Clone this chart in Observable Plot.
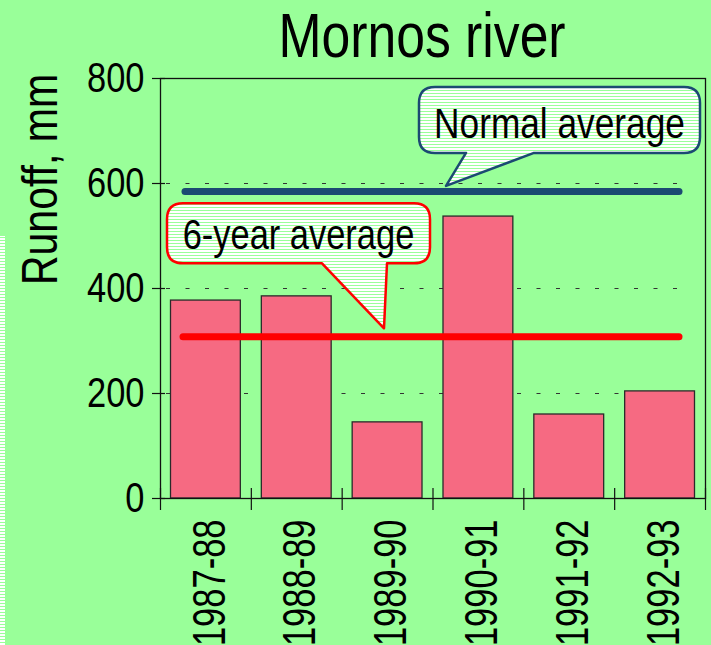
<!DOCTYPE html>
<html><head><meta charset="utf-8">
<script src="https://cdn.jsdelivr.net/npm/d3@7"></script>
<script src="https://cdn.jsdelivr.net/npm/@observablehq/plot@0.6"></script>
<style>
html,body{margin:0;padding:0;background:#99FF99;width:711px;height:645px;overflow:hidden;}
#title{height:70px;line-height:70px;font-family:"Liberation Sans",Arial,sans-serif;font-size:63px;text-align:center;padding-left:133px;box-sizing:border-box;width:711px;color:#000;white-space:nowrap;}
#title span{display:inline-block;transform:scaleX(0.82);transform-origin:50% 50%;}
#chart svg{display:block;overflow:visible;}
</style></head><body>
<div id="title"><span>Mornos river</span></div>
<div id="chart"></div>
<script>
const years = ["1987-88", "1988-89", "1989-90", "1990-91", "1991-92", "1992-93"];
const runoff = [377, 385, 145, 537, 160, 204];
const yTicks = [0, 200, 400, 600, 800];
const gridValues = [200, 400, 600];
const normalAverage = 585;
const sixYearAverage = 308;
const yLabel = "Runoff, mm";
const normalLabel = "Normal average";
const sixYearLabel = "6-year average";

const data = years.map((y, i) => ({year: y, value: runoff[i]}));
const FONT = '"Liberation Sans", Arial, sans-serif';
const NARROW = 0.82;
const NARROW_X = 0.75;
const W = 711, H = 575, ML = 160, MR = 6, MT = 8, MB = 147;
const frameW = W - ML - MR, frameH = H - MT - MB;
const step = frameW / years.length;

const plot = Plot.plot({
  width: W, height: H,
  marginLeft: ML, marginRight: MR, marginTop: MT, marginBottom: MB,
  style: {background: "transparent", fontFamily: FONT, overflow: "visible"},
  x: {domain: years, paddingInner: 0, paddingOuter: 0, round: false, axis: null},
  y: {domain: [0, 800], axis: null},
  marks: [
    Plot.ruleY(gridValues, {y: d => d, stroke: "#333", strokeWidth: 1.2, strokeDasharray: "4 15.5", insetLeft: 6, insetRight: 14}),
    Plot.barY(data, {x: "year", y: "value", fill: "#F66A82", stroke: "#2a2a2a", strokeWidth: 1.3, insetLeft: 10.5, insetRight: 10.5}),
    Plot.ruleY([normalAverage], {y: d => d, stroke: "#1B4A72", strokeWidth: 7, strokeLinecap: "round", insetLeft: 25, insetRight: 26}),
    Plot.ruleY([sixYearAverage], {y: d => d, stroke: "#FF0000", strokeWidth: 7, strokeLinecap: "round", insetLeft: 23, insetRight: 26}),
    Plot.frame({stroke: "#111", strokeWidth: 1.3}),
    Plot.ruleY(yTicks, {y: d => d, stroke: "#111", strokeWidth: 1.2, insetLeft: -8, insetRight: frameW - 5}),
    Plot.ruleX(years, {x: d => d, dx: -step / 2, stroke: "#111", strokeWidth: 1.2, insetTop: frameH - 10, insetBottom: -12}),
    Plot.ruleX(years.slice(-1), {x: d => d, dx: step / 2, stroke: "#111", strokeWidth: 1.2, insetTop: frameH - 10, insetBottom: -12}),
    Plot.text(yTicks, {y: d => d, text: d => String(d), frameAnchor: "left", textAnchor: "end", lineAnchor: "middle", dx: -16, fontSize: 42, fill: "#000"}),
    Plot.text(years, {x: d => d, text: d => d, frameAnchor: "bottom", rotate: -90, textAnchor: "end", lineAnchor: "middle", dy: 21, dx: 4, fontSize: 46, fill: "#000"}),
    Plot.text([yLabel], {text: d => d, frameAnchor: "top-left", rotate: -90, textAnchor: "middle", lineAnchor: "middle", dx: -120, dy: 101, fontSize: 50, fill: "#000"})
  ]
});

document.getElementById("chart").appendChild(plot);

const svg = d3.select(plot);
const yS = plot.scale("y");

// narrow the glyphs along the reading direction (Arial Narrow look)
const yearSet = new Set(years);
svg.selectAll("text").each(function () {
  const t = d3.select(this);
  const k = yearSet.has(this.textContent) ? NARROW_X : NARROW;
  const tr = t.attr("transform") || "";
  const xa = t.attr("x"), ya = t.attr("y");
  let tx = 0, ty = 0;
  if (xa != null && isFinite(+xa)) { tx = +xa; t.attr("x", null); }
  if (ya != null && isFinite(+ya)) { ty = +ya; t.attr("y", null); }
  t.attr("transform", `${tr} translate(${tx},${ty}) scale(${k},1)`.trim());
});

// striped pattern and side strip
const defs = svg.insert("defs", ":first-child");
const pat = defs.append("pattern").attr("id", "stripes").attr("patternUnits", "userSpaceOnUse").attr("width", 4).attr("height", 3);
pat.append("rect").attr("width", 4).attr("height", 3).attr("fill", "#ffffff");
pat.append("rect").attr("y", 2).attr("width", 4).attr("height", 1).attr("fill", "#99FF99");
svg.insert("rect", "defs + *").attr("x", 0).attr("y", 166).attr("width", 5).attr("height", H - 166).attr("fill", "url(#stripes)");

function bubble(L, T, R, B, p1, p2, tx, ty, r) {
  return `M${L + r},${T} H${R - r} Q${R},${T} ${R},${T + r} V${B - r} Q${R},${B} ${R - r},${B} H${p2} L${tx},${ty} L${p1},${B} H${L + r} Q${L},${B} ${L},${B - r} V${T + r} Q${L},${T} ${L + r},${T} Z`;
}
function callout(L, R, T, B, p1, p2, tx, ty, color, label, fs, tdy) {
  const g = svg.append("g");
  g.append("path").attr("d", bubble(L, T, R, B, p1, p2, tx, ty, 16))
    .attr("fill", "url(#stripes)").attr("stroke", color).attr("stroke-width", 2.5).attr("stroke-linejoin", "round");
  g.append("text").attr("transform", `translate(${(L + R) / 2},${B - tdy}) scale(${NARROW},1)`).attr("text-anchor", "middle")
    .attr("font-family", FONT).attr("font-size", fs).attr("fill", "#000").text(label);
}
{
  const tipY = yS.apply(normalAverage) - 5;
  const B = tipY - 33;
  callout(419, 700, B - 66, B, 466, 534, 446, tipY, "#1B4A72", normalLabel, 43, 15);
}
{
  const tipY = yS.apply(sixYearAverage) - 8;
  const B = tipY - 65;
  callout(167, 430, B - 60, B, 322, 387, 384, tipY, "#FF0000", sixYearLabel, 42, 14);
}
</script>
</body></html>
